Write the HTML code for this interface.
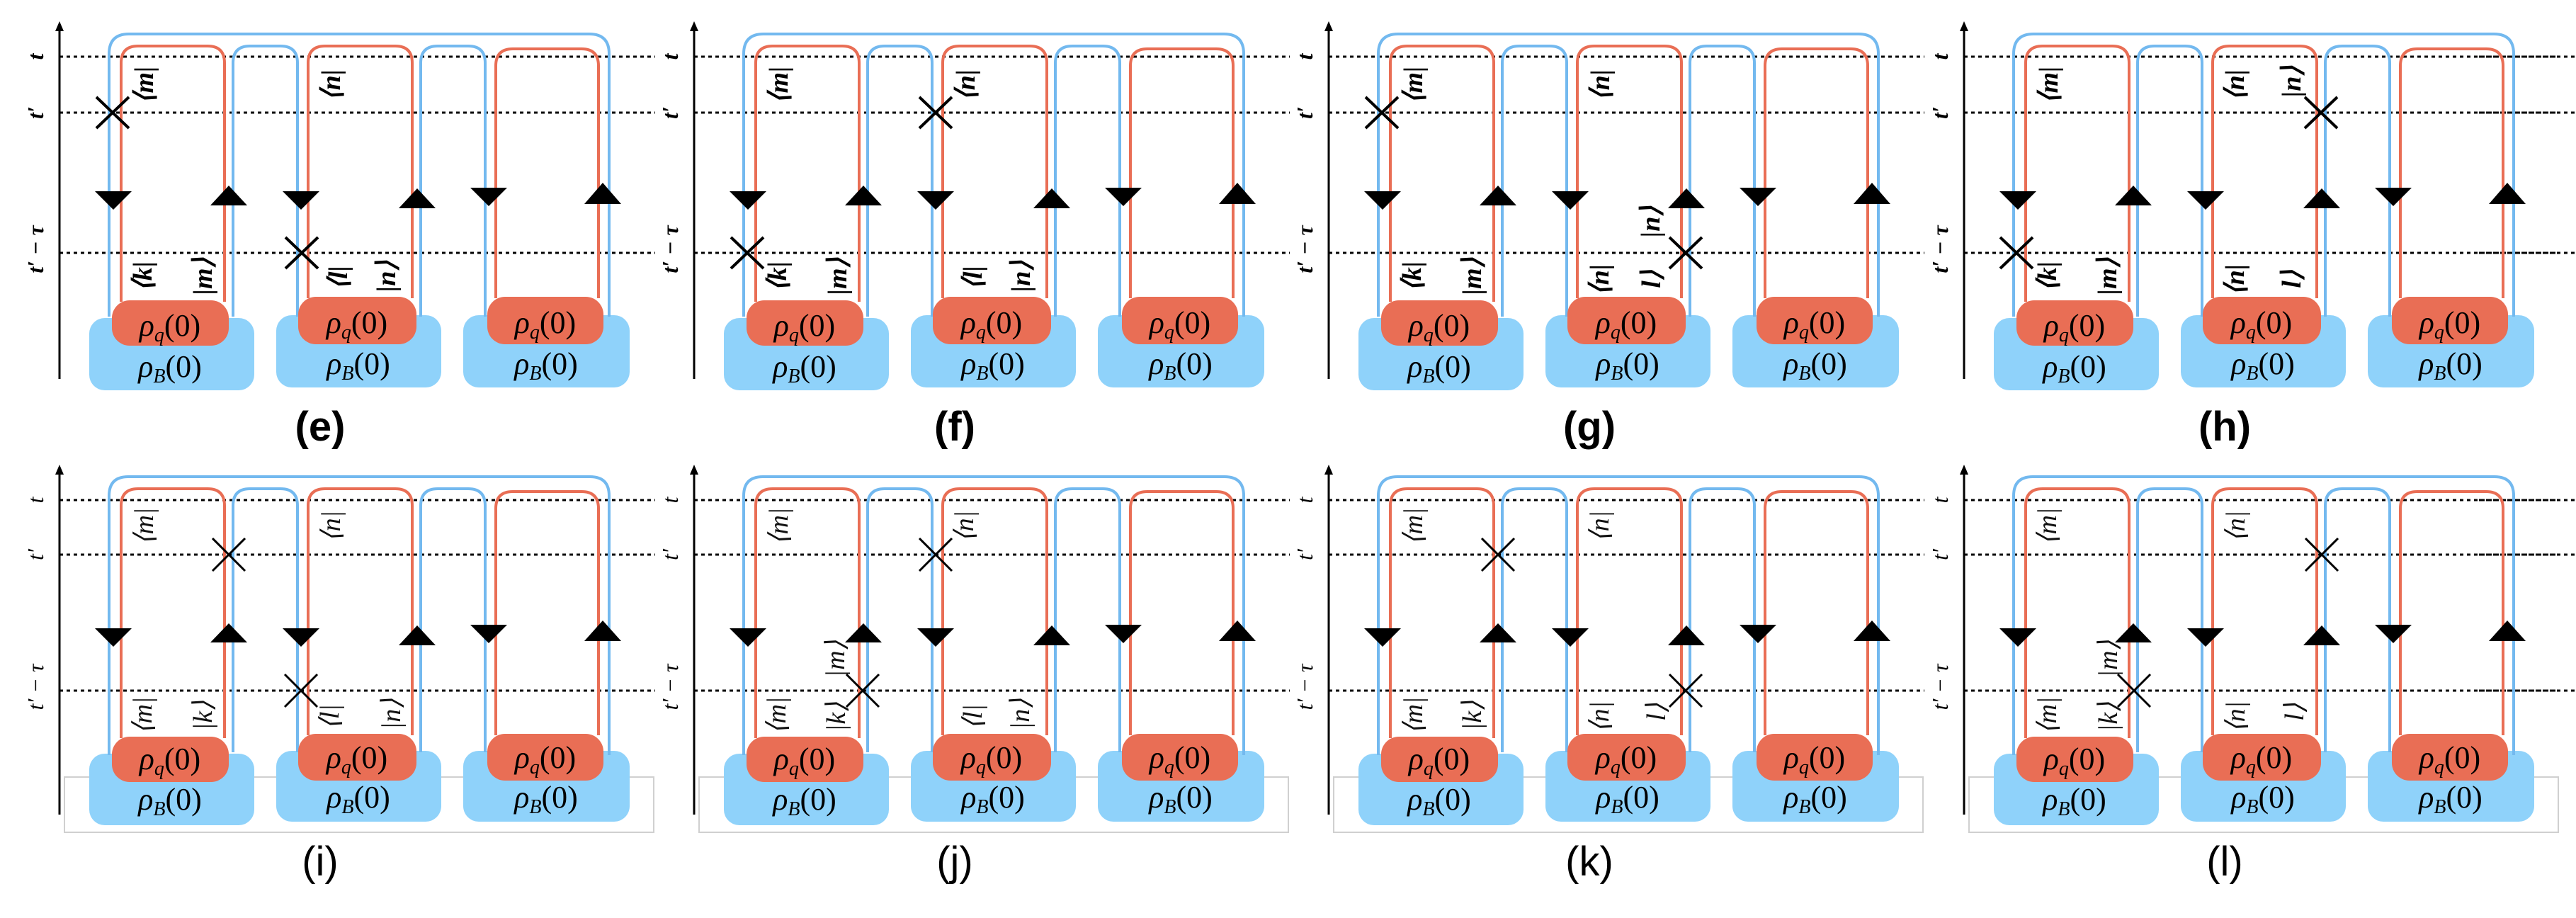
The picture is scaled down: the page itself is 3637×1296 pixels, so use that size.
<!DOCTYPE html>
<html><head><meta charset="utf-8"><style>
html,body{margin:0;padding:0;background:#fff;}
svg{display:block;}
.ax{font-family:"Liberation Serif",serif;font-style:italic;font-size:32px;}
.b{font-weight:bold;}
.lab{font-family:"Liberation Serif",serif;font-size:38px;}
.cap{font-family:"Liberation Sans",sans-serif;font-size:58px;}
.rho{font-family:"Liberation Serif",serif;font-size:44px;}
</style></head><body>
<svg width="3637" height="1296" viewBox="0 0 3637 1296" xmlns="http://www.w3.org/2000/svg">
<defs>
<g id="r1">
  <g stroke="#000" stroke-width="3" stroke-dasharray="5 5">
    <line x1="84" y1="80" x2="925" y2="80"/><line x1="84" y1="159" x2="925" y2="159"/><line x1="84" y1="357" x2="925" y2="357"/>
  </g>
  <line x1="84" y1="535" x2="84" y2="40" stroke="#000" stroke-width="3"/>
  <polygon points="78,44 90,44 84,30" fill="#000"/>
  <rect x="126" y="449" width="233" height="102" rx="22" fill="#8fd2fa"/>
  <rect x="390" y="445" width="233" height="102" rx="22" fill="#8fd2fa"/>
  <rect x="654" y="445" width="235" height="102" rx="22" fill="#8fd2fa"/>
  <g fill="none" stroke-width="4">
    <path d="M154,447 V76 Q154,48 182,48 H832 Q860,48 860,76 V447" stroke="#73b9ef"/>
    <path d="M329,447 V89 Q329,65 353,65 H396 Q420,65 420,89 V447" stroke="#73b9ef"/>
    <path d="M594,447 V89 Q594,65 618,65 H661 Q685,65 685,89 V447" stroke="#73b9ef"/>
    <path d="M171,426 V89 Q171,65 195,65 H293 Q317,65 317,89 V426" stroke="#e96e55"/>
    <path d="M435,421 V89 Q435,65 459,65 H558 Q582,65 582,89 V421" stroke="#e96e55"/>
    <path d="M700,421 V93 Q700,69 724,69 H821 Q845,69 845,93 V421" stroke="#e96e55"/>
  </g>
  <rect x="158" y="424" width="165" height="64" rx="25" fill="#e96e55"/>
  <rect x="421" y="419" width="167" height="67" rx="25" fill="#e96e55"/>
  <rect x="688" y="419" width="164" height="67" rx="25" fill="#e96e55"/>
  <g fill="#000">
    <polygon points="134,270 186,270 160,296"/><polygon points="297,290 349,290 323,262"/>
    <polygon points="399,270 451,270 425,296"/><polygon points="563,294 615,294 589,266"/>
    <polygon points="664,265 716,265 690,291"/><polygon points="825,288 877,288 851,258"/>
  </g>
</g>
<g id="r2">
  <rect x="91" y="1097" width="832" height="78" fill="none" stroke="#d0d0d0" stroke-width="2"/>
  <g stroke="#000" stroke-width="3" stroke-dasharray="5 5">
    <line x1="84" y1="706" x2="925" y2="706"/><line x1="84" y1="783" x2="925" y2="783"/><line x1="84" y1="975" x2="925" y2="975"/>
  </g>
  <line x1="84" y1="1150" x2="84" y2="666" stroke="#000" stroke-width="3"/>
  <polygon points="78,670 90,670 84,656" fill="#000"/>
  <rect x="126" y="1064" width="233" height="101" rx="22" fill="#8fd2fa"/>
  <rect x="390" y="1060" width="233" height="100" rx="22" fill="#8fd2fa"/>
  <rect x="654" y="1060" width="235" height="100" rx="22" fill="#8fd2fa"/>
  <g fill="none" stroke-width="4">
    <path d="M154,1066 V700 Q154,673 181,673 H833 Q860,673 860,700 V1066" stroke="#73b9ef"/>
    <path d="M329,1062 V714 Q329,690 353,690 H396 Q420,690 420,714 V1062" stroke="#73b9ef"/>
    <path d="M594,1062 V714 Q594,690 618,690 H661 Q685,690 685,714 V1062" stroke="#73b9ef"/>
    <path d="M171,1042 V714 Q171,690 195,690 H293 Q317,690 317,714 V1042" stroke="#e96e55"/>
    <path d="M435,1038 V714 Q435,690 459,690 H558 Q582,690 582,714 V1038" stroke="#e96e55"/>
    <path d="M700,1038 V718 Q700,694 724,694 H821 Q845,694 845,718 V1038" stroke="#e96e55"/>
  </g>
  <rect x="158" y="1040" width="165" height="64" rx="25" fill="#e96e55"/>
  <rect x="421" y="1036" width="167" height="66" rx="25" fill="#e96e55"/>
  <rect x="688" y="1036" width="164" height="66" rx="25" fill="#e96e55"/>
  <g fill="#000">
    <polygon points="134,887 186,887 160,913"/><polygon points="297,907 349,907 323,880"/>
    <polygon points="399,887 451,887 425,913"/><polygon points="563,911 615,911 589,883"/>
    <polygon points="664,882 716,882 690,908"/><polygon points="825,905 877,905 851,876"/>
  </g>
</g>
</defs>

<g stroke="#000" stroke-width="3" stroke-dasharray="5 5">
  <line x1="3500" y1="80" x2="3637" y2="80"/><line x1="3500" y1="159" x2="3637" y2="159"/><line x1="3500" y1="357" x2="3637" y2="357"/>
  <line x1="3500" y1="706" x2="3637" y2="706"/><line x1="3500" y1="783" x2="3637" y2="783"/><line x1="3500" y1="975" x2="3637" y2="975"/>
</g>

<use href="#r1" x="0"/><use href="#r1" x="896"/><use href="#r1" x="1792"/><use href="#r1" x="2689"/>
<use href="#r2" x="0"/><use href="#r2" x="896"/><use href="#r2" x="1792"/><use href="#r2" x="2689"/>

<!-- panel e -->
<g transform="translate(0,0)">
  <g class="ax b" text-anchor="middle" dominant-baseline="central">
    <text transform="translate(50,80) rotate(-90)">t</text>
    <text transform="translate(50,159) rotate(-90)">t′</text>
    <text transform="translate(50,352) rotate(-90)">t′ − τ</text>
  </g>
  <g class="rho" text-anchor="middle">
    <text x="240" y="474"><tspan font-style="italic">ρ</tspan><tspan font-style="italic" font-size="28" dy="8">q</tspan><tspan dy="-8">(0)</tspan></text>
    <text x="504" y="470"><tspan font-style="italic">ρ</tspan><tspan font-style="italic" font-size="28" dy="8">q</tspan><tspan dy="-8">(0)</tspan></text>
    <text x="770" y="470"><tspan font-style="italic">ρ</tspan><tspan font-style="italic" font-size="28" dy="8">q</tspan><tspan dy="-8">(0)</tspan></text>
    <text x="240" y="532"><tspan font-style="italic">ρ</tspan><tspan font-style="italic" font-size="28" dy="8">B</tspan><tspan dy="-8">(0)</tspan></text>
    <text x="506" y="528"><tspan font-style="italic">ρ</tspan><tspan font-style="italic" font-size="28" dy="8">B</tspan><tspan dy="-8">(0)</tspan></text>
    <text x="771" y="528"><tspan font-style="italic">ρ</tspan><tspan font-style="italic" font-size="28" dy="8">B</tspan><tspan dy="-8">(0)</tspan></text>
  </g>
  <g class="lab b" text-anchor="middle" dominant-baseline="central" font-style="italic">
    <text transform="translate(204,120) rotate(-90)">⟨m|</text>
    <text transform="translate(468,120) rotate(-90)">⟨n|</text>
    <text transform="translate(202,390) rotate(-90)">⟨k|</text>
    <text transform="translate(287,390) rotate(-90)">|m⟩</text>
    <text transform="translate(478,392) rotate(-90)">⟨l|</text>
    <text transform="translate(546,390) rotate(-90)">|n⟩</text>
  </g>
  <g stroke="#000" stroke-width="4"><path d="M136,137 L182,181 M182,137 L136,181"/><path d="M403,335 L449,379 M449,335 L403,379"/></g>
  <text class="cap b" x="452" y="622" text-anchor="middle">(e)</text>
</g>
<!-- panel f -->
<g transform="translate(896,0)">
  <g class="ax b" text-anchor="middle" dominant-baseline="central">
    <text transform="translate(50,80) rotate(-90)">t</text>
    <text transform="translate(50,159) rotate(-90)">t′</text>
    <text transform="translate(50,352) rotate(-90)">t′ − τ</text>
  </g>
  <g class="rho" text-anchor="middle">
    <text x="240" y="474"><tspan font-style="italic">ρ</tspan><tspan font-style="italic" font-size="28" dy="8">q</tspan><tspan dy="-8">(0)</tspan></text>
    <text x="504" y="470"><tspan font-style="italic">ρ</tspan><tspan font-style="italic" font-size="28" dy="8">q</tspan><tspan dy="-8">(0)</tspan></text>
    <text x="770" y="470"><tspan font-style="italic">ρ</tspan><tspan font-style="italic" font-size="28" dy="8">q</tspan><tspan dy="-8">(0)</tspan></text>
    <text x="240" y="532"><tspan font-style="italic">ρ</tspan><tspan font-style="italic" font-size="28" dy="8">B</tspan><tspan dy="-8">(0)</tspan></text>
    <text x="506" y="528"><tspan font-style="italic">ρ</tspan><tspan font-style="italic" font-size="28" dy="8">B</tspan><tspan dy="-8">(0)</tspan></text>
    <text x="771" y="528"><tspan font-style="italic">ρ</tspan><tspan font-style="italic" font-size="28" dy="8">B</tspan><tspan dy="-8">(0)</tspan></text>
  </g>
  <g class="lab b" text-anchor="middle" dominant-baseline="central" font-style="italic">
    <text transform="translate(204,120) rotate(-90)">⟨m|</text>
    <text transform="translate(468,120) rotate(-90)">⟨n|</text>
    <text transform="translate(202,390) rotate(-90)">⟨k|</text>
    <text transform="translate(287,390) rotate(-90)">|m⟩</text>
    <text transform="translate(478,392) rotate(-90)">⟨l|</text>
    <text transform="translate(546,390) rotate(-90)">|n⟩</text>
  </g>
  <g stroke="#000" stroke-width="4"><path d="M402,137 L448,181 M448,137 L402,181"/><path d="M136,335 L182,379 M182,335 L136,379"/></g>
  <text class="cap b" x="452" y="622" text-anchor="middle">(f)</text>
</g>
<!-- panel g -->
<g transform="translate(1792,0)">
  <g class="ax b" text-anchor="middle" dominant-baseline="central">
    <text transform="translate(50,80) rotate(-90)">t</text>
    <text transform="translate(50,159) rotate(-90)">t′</text>
    <text transform="translate(50,352) rotate(-90)">t′ − τ</text>
  </g>
  <g class="rho" text-anchor="middle">
    <text x="240" y="474"><tspan font-style="italic">ρ</tspan><tspan font-style="italic" font-size="28" dy="8">q</tspan><tspan dy="-8">(0)</tspan></text>
    <text x="504" y="470"><tspan font-style="italic">ρ</tspan><tspan font-style="italic" font-size="28" dy="8">q</tspan><tspan dy="-8">(0)</tspan></text>
    <text x="770" y="470"><tspan font-style="italic">ρ</tspan><tspan font-style="italic" font-size="28" dy="8">q</tspan><tspan dy="-8">(0)</tspan></text>
    <text x="240" y="532"><tspan font-style="italic">ρ</tspan><tspan font-style="italic" font-size="28" dy="8">B</tspan><tspan dy="-8">(0)</tspan></text>
    <text x="506" y="528"><tspan font-style="italic">ρ</tspan><tspan font-style="italic" font-size="28" dy="8">B</tspan><tspan dy="-8">(0)</tspan></text>
    <text x="771" y="528"><tspan font-style="italic">ρ</tspan><tspan font-style="italic" font-size="28" dy="8">B</tspan><tspan dy="-8">(0)</tspan></text>
  </g>
  <g class="lab b" text-anchor="middle" dominant-baseline="central" font-style="italic">
    <text transform="translate(204,120) rotate(-90)">⟨m|</text>
    <text transform="translate(468,120) rotate(-90)">⟨n|</text>
    <text transform="translate(202,390) rotate(-90)">⟨k|</text>
    <text transform="translate(287,390) rotate(-90)">|m⟩</text>
    <text transform="translate(467,395) rotate(-90)">⟨n|</text>
    <text transform="translate(540,394) rotate(-90)">l⟩</text>
    <text transform="translate(539,313) rotate(-90)">|n⟩</text>
  </g>
  <g stroke="#000" stroke-width="4"><path d="M136,137 L182,181 M182,137 L136,181"/><path d="M565,335 L611,379 M611,335 L565,379"/></g>
  <text class="cap b" x="452" y="622" text-anchor="middle">(g)</text>
</g>
<!-- panel h -->
<g transform="translate(2689,0)">
  <g class="ax b" text-anchor="middle" dominant-baseline="central">
    <text transform="translate(50,80) rotate(-90)">t</text>
    <text transform="translate(50,159) rotate(-90)">t′</text>
    <text transform="translate(50,352) rotate(-90)">t′ − τ</text>
  </g>
  <g class="rho" text-anchor="middle">
    <text x="240" y="474"><tspan font-style="italic">ρ</tspan><tspan font-style="italic" font-size="28" dy="8">q</tspan><tspan dy="-8">(0)</tspan></text>
    <text x="504" y="470"><tspan font-style="italic">ρ</tspan><tspan font-style="italic" font-size="28" dy="8">q</tspan><tspan dy="-8">(0)</tspan></text>
    <text x="770" y="470"><tspan font-style="italic">ρ</tspan><tspan font-style="italic" font-size="28" dy="8">q</tspan><tspan dy="-8">(0)</tspan></text>
    <text x="240" y="532"><tspan font-style="italic">ρ</tspan><tspan font-style="italic" font-size="28" dy="8">B</tspan><tspan dy="-8">(0)</tspan></text>
    <text x="506" y="528"><tspan font-style="italic">ρ</tspan><tspan font-style="italic" font-size="28" dy="8">B</tspan><tspan dy="-8">(0)</tspan></text>
    <text x="771" y="528"><tspan font-style="italic">ρ</tspan><tspan font-style="italic" font-size="28" dy="8">B</tspan><tspan dy="-8">(0)</tspan></text>
  </g>
  <g class="lab b" text-anchor="middle" dominant-baseline="central" font-style="italic">
    <text transform="translate(204,120) rotate(-90)">⟨m|</text>
    <text transform="translate(467,120) rotate(-90)">⟨n|</text>
    <text transform="translate(547,115) rotate(-90)">|n⟩</text>
    <text transform="translate(202,390) rotate(-90)">⟨k|</text>
    <text transform="translate(287,390) rotate(-90)">|m⟩</text>
    <text transform="translate(467,395) rotate(-90)">⟨n|</text>
    <text transform="translate(547,394) rotate(-90)">l⟩</text>
  </g>
  <g stroke="#000" stroke-width="4"><path d="M565,137 L611,181 M611,137 L565,181"/><path d="M135,335 L181,379 M181,335 L135,379"/></g>
  <text class="cap b" x="452" y="622" text-anchor="middle">(h)</text>
</g>

<!-- panel i -->
<g transform="translate(0,0)">
  <g class="ax" text-anchor="middle" dominant-baseline="central">
    <text transform="translate(50,706) rotate(-90)">t</text>
    <text transform="translate(50,783) rotate(-90)">t′</text>
    <text transform="translate(50,970) rotate(-90)">t′ − τ</text>
  </g>
  <g class="rho" text-anchor="middle">
    <text x="240" y="1086"><tspan font-style="italic">ρ</tspan><tspan font-style="italic" font-size="28" dy="8">q</tspan><tspan dy="-8">(0)</tspan></text>
    <text x="504" y="1084"><tspan font-style="italic">ρ</tspan><tspan font-style="italic" font-size="28" dy="8">q</tspan><tspan dy="-8">(0)</tspan></text>
    <text x="770" y="1084"><tspan font-style="italic">ρ</tspan><tspan font-style="italic" font-size="28" dy="8">q</tspan><tspan dy="-8">(0)</tspan></text>
    <text x="240" y="1143"><tspan font-style="italic">ρ</tspan><tspan font-style="italic" font-size="28" dy="8">B</tspan><tspan dy="-8">(0)</tspan></text>
    <text x="506" y="1140"><tspan font-style="italic">ρ</tspan><tspan font-style="italic" font-size="28" dy="8">B</tspan><tspan dy="-8">(0)</tspan></text>
    <text x="771" y="1140"><tspan font-style="italic">ρ</tspan><tspan font-style="italic" font-size="28" dy="8">B</tspan><tspan dy="-8">(0)</tspan></text>
  </g>
  <g class="lab" text-anchor="middle" dominant-baseline="central" font-style="italic" fill="#111">
    <text transform="translate(204,743) rotate(-90)">⟨m|</text>
    <text transform="translate(468,743) rotate(-90)">⟨n|</text>
    <text transform="translate(202,1010) rotate(-90)">⟨m|</text>
    <text transform="translate(287,1010) rotate(-90)">|k⟩</text>
    <text transform="translate(466,1012) rotate(-90)">⟨l|</text>
    <text transform="translate(553,1008) rotate(-90)">|n⟩</text>
  </g>
  <g stroke="#000" stroke-width="3"><path d="M300,760 L346,806 M346,760 L300,806"/><path d="M402,952 L448,998 M448,952 L402,998"/></g>
  <text class="cap" x="452" y="1236" text-anchor="middle">(i)</text>
</g>
<!-- panel j -->
<g transform="translate(896,0)">
  <g class="ax" text-anchor="middle" dominant-baseline="central">
    <text transform="translate(50,706) rotate(-90)">t</text>
    <text transform="translate(50,783) rotate(-90)">t′</text>
    <text transform="translate(50,970) rotate(-90)">t′ − τ</text>
  </g>
  <g class="rho" text-anchor="middle">
    <text x="240" y="1086"><tspan font-style="italic">ρ</tspan><tspan font-style="italic" font-size="28" dy="8">q</tspan><tspan dy="-8">(0)</tspan></text>
    <text x="504" y="1084"><tspan font-style="italic">ρ</tspan><tspan font-style="italic" font-size="28" dy="8">q</tspan><tspan dy="-8">(0)</tspan></text>
    <text x="770" y="1084"><tspan font-style="italic">ρ</tspan><tspan font-style="italic" font-size="28" dy="8">q</tspan><tspan dy="-8">(0)</tspan></text>
    <text x="240" y="1143"><tspan font-style="italic">ρ</tspan><tspan font-style="italic" font-size="28" dy="8">B</tspan><tspan dy="-8">(0)</tspan></text>
    <text x="506" y="1140"><tspan font-style="italic">ρ</tspan><tspan font-style="italic" font-size="28" dy="8">B</tspan><tspan dy="-8">(0)</tspan></text>
    <text x="771" y="1140"><tspan font-style="italic">ρ</tspan><tspan font-style="italic" font-size="28" dy="8">B</tspan><tspan dy="-8">(0)</tspan></text>
  </g>
  <g class="lab" text-anchor="middle" dominant-baseline="central" font-style="italic" fill="#111">
    <text transform="translate(204,743) rotate(-90)">⟨m|</text>
    <text transform="translate(466,743) rotate(-90)">⟨n|</text>
    <text transform="translate(284,930) rotate(-90)">|m⟩</text>
    <text transform="translate(201,1010) rotate(-90)">⟨m|</text>
    <text transform="translate(285,1012) rotate(-90)">|k⟩</text>
    <text transform="translate(478,1012) rotate(-90)">⟨l|</text>
    <text transform="translate(545,1008) rotate(-90)">|n⟩</text>
  </g>
  <g stroke="#000" stroke-width="3"><path d="M402,760 L448,806 M448,760 L402,806"/><path d="M299,952 L345,998 M345,952 L299,998"/></g>
  <text class="cap" x="452" y="1236" text-anchor="middle">(j)</text>
</g>
<!-- panel k -->
<g transform="translate(1792,0)">
  <g class="ax" text-anchor="middle" dominant-baseline="central">
    <text transform="translate(50,706) rotate(-90)">t</text>
    <text transform="translate(50,783) rotate(-90)">t′</text>
    <text transform="translate(50,970) rotate(-90)">t′ − τ</text>
  </g>
  <g class="rho" text-anchor="middle">
    <text x="240" y="1086"><tspan font-style="italic">ρ</tspan><tspan font-style="italic" font-size="28" dy="8">q</tspan><tspan dy="-8">(0)</tspan></text>
    <text x="504" y="1084"><tspan font-style="italic">ρ</tspan><tspan font-style="italic" font-size="28" dy="8">q</tspan><tspan dy="-8">(0)</tspan></text>
    <text x="770" y="1084"><tspan font-style="italic">ρ</tspan><tspan font-style="italic" font-size="28" dy="8">q</tspan><tspan dy="-8">(0)</tspan></text>
    <text x="240" y="1143"><tspan font-style="italic">ρ</tspan><tspan font-style="italic" font-size="28" dy="8">B</tspan><tspan dy="-8">(0)</tspan></text>
    <text x="506" y="1140"><tspan font-style="italic">ρ</tspan><tspan font-style="italic" font-size="28" dy="8">B</tspan><tspan dy="-8">(0)</tspan></text>
    <text x="771" y="1140"><tspan font-style="italic">ρ</tspan><tspan font-style="italic" font-size="28" dy="8">B</tspan><tspan dy="-8">(0)</tspan></text>
  </g>
  <g class="lab" text-anchor="middle" dominant-baseline="central" font-style="italic" fill="#111">
    <text transform="translate(204,743) rotate(-90)">⟨m|</text>
    <text transform="translate(467,743) rotate(-90)">⟨n|</text>
    <text transform="translate(204,1010) rotate(-90)">⟨m|</text>
    <text transform="translate(287,1010) rotate(-90)">|k⟩</text>
    <text transform="translate(467,1012) rotate(-90)">⟨n|</text>
    <text transform="translate(547,1005) rotate(-90)">l⟩</text>
  </g>
  <g stroke="#000" stroke-width="3"><path d="M300,760 L346,806 M346,760 L300,806"/><path d="M565,952 L611,998 M611,952 L565,998"/></g>
  <text class="cap" x="452" y="1236" text-anchor="middle">(k)</text>
</g>
<!-- panel l -->
<g transform="translate(2689,0)">
  <g class="ax" text-anchor="middle" dominant-baseline="central">
    <text transform="translate(50,706) rotate(-90)">t</text>
    <text transform="translate(50,783) rotate(-90)">t′</text>
    <text transform="translate(50,970) rotate(-90)">t′ − τ</text>
  </g>
  <g class="rho" text-anchor="middle">
    <text x="240" y="1086"><tspan font-style="italic">ρ</tspan><tspan font-style="italic" font-size="28" dy="8">q</tspan><tspan dy="-8">(0)</tspan></text>
    <text x="504" y="1084"><tspan font-style="italic">ρ</tspan><tspan font-style="italic" font-size="28" dy="8">q</tspan><tspan dy="-8">(0)</tspan></text>
    <text x="770" y="1084"><tspan font-style="italic">ρ</tspan><tspan font-style="italic" font-size="28" dy="8">q</tspan><tspan dy="-8">(0)</tspan></text>
    <text x="240" y="1143"><tspan font-style="italic">ρ</tspan><tspan font-style="italic" font-size="28" dy="8">B</tspan><tspan dy="-8">(0)</tspan></text>
    <text x="506" y="1140"><tspan font-style="italic">ρ</tspan><tspan font-style="italic" font-size="28" dy="8">B</tspan><tspan dy="-8">(0)</tspan></text>
    <text x="771" y="1140"><tspan font-style="italic">ρ</tspan><tspan font-style="italic" font-size="28" dy="8">B</tspan><tspan dy="-8">(0)</tspan></text>
  </g>
  <g class="lab" text-anchor="middle" dominant-baseline="central" font-style="italic" fill="#111">
    <text transform="translate(202,743) rotate(-90)">⟨m|</text>
    <text transform="translate(468,743) rotate(-90)">⟨n|</text>
    <text transform="translate(288,930) rotate(-90)">|m⟩</text>
    <text transform="translate(202,1010) rotate(-90)">⟨m|</text>
    <text transform="translate(288,1012) rotate(-90)">|k⟩</text>
    <text transform="translate(468,1012) rotate(-90)">⟨n|</text>
    <text transform="translate(551,1005) rotate(-90)">l⟩</text>
  </g>
  <g stroke="#000" stroke-width="3"><path d="M566,760 L612,806 M612,760 L566,806"/><path d="M301,952 L347,998 M347,952 L301,998"/></g>
  <text class="cap" x="452" y="1236" text-anchor="middle">(l)</text>
</g>
</svg>
</body></html>
